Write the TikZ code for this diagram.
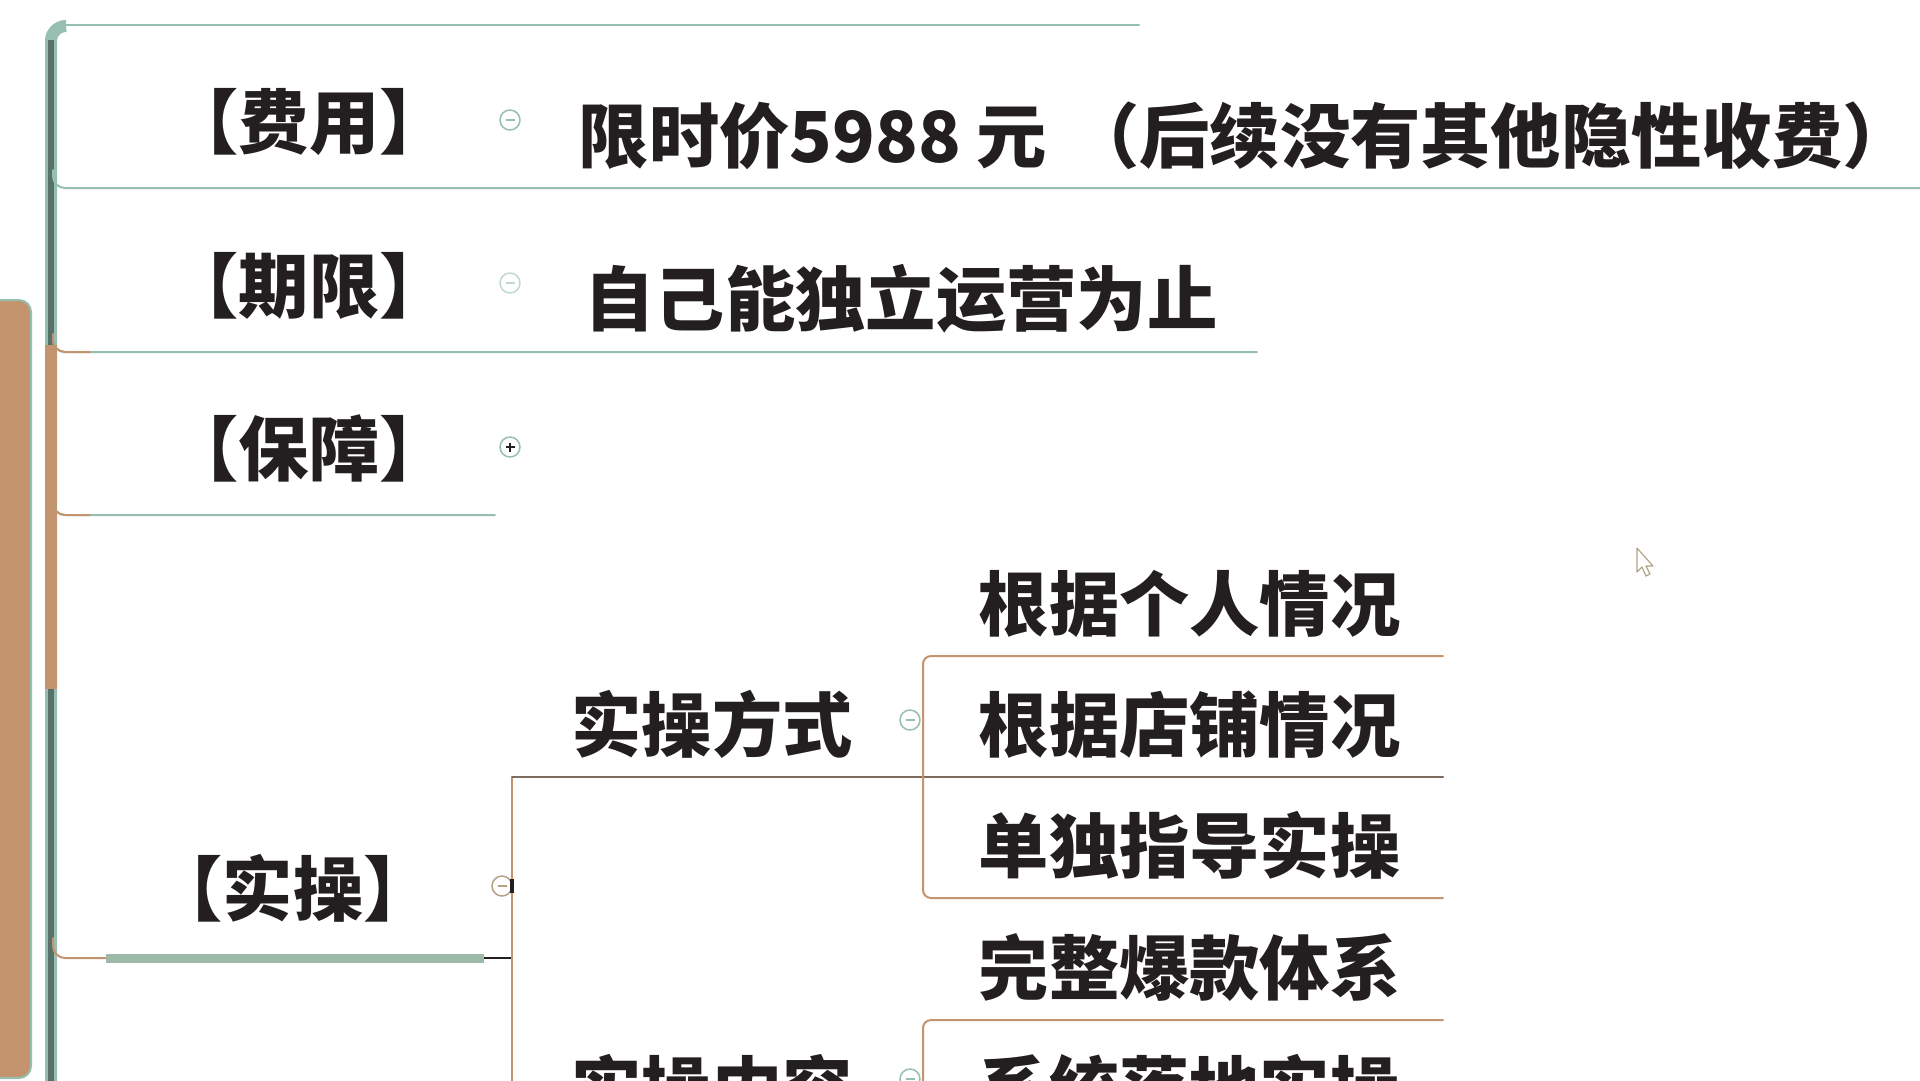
\documentclass[tikz,border=0pt]{standalone}
\usepackage{fontspec}
\newfontfamily\cjk{Noto Sans CJK SC}
\usetikzlibrary{positioning}

\definecolor{qing}{HTML}{96BFB1}
\definecolor{zong}{HTML}{C4946E}
\definecolor{mo}{HTML}{231F20}
\definecolor{gan}{HTML}{55716A}
\definecolor{hui}{HTML}{7D6B5E}

\tikzset{
  zi/.style = {font=\cjk\bfseries\fontsize{20pt}{24pt}\selectfont, text=mo, inner sep=0pt},
  biaoti/.style = {zi, anchor=base},
  neirong/.style = {zi, anchor=base west},
  xian/.style = {line width=0.2mm, line cap=round},
  shou/.style = {circle, draw=#1, line width=0.15mm, minimum size=2mm, inner sep=0pt,
    path picture={\draw[#1, line width=0.15mm] ([xshift=-0.45mm]path picture bounding box.center) -- ([xshift=0.45mm]path picture bounding box.center);}},
  shou/.default = qing,
  fang/.style = {circle, draw=qing, line width=0.15mm, minimum size=2mm, inner sep=0pt,
    path picture={\draw[mo, line width=0.12mm] ([xshift=-0.45mm]path picture bounding box.center) -- ([xshift=0.45mm]path picture bounding box.center);
                  \draw[mo, line width=0.12mm] ([yshift=-0.45mm]path picture bounding box.center) -- ([yshift=0.45mm]path picture bounding box.center);}}
}

\begin{document}
\begin{tikzpicture}[x=0.1mm, y=-0.1mm]
\useasboundingbox (0,0) rectangle (1920,1080);
\clip (0,0) rectangle (1920,1080);
\fill[white] (0,0) rectangle (1920,1080);

% 左侧色条
\draw[qing, line width=0.2mm, fill=zong, rounded corners=1.2mm] (-30,300) rectangle (31,1078);

% 主干
\draw[qing, line width=1.2mm, rounded corners=1.5mm] (51,1100) |- (66,26);
\draw[gan, line width=0.55mm] (51,1100) -- (51,40);
\draw[zong, line width=1.2mm] (51,345) -- (51,689);
\coordinate (top-e) at (1139,25);
\draw[qing, xian] (60,25) -- (top-e);

% 分支下划线
\coordinate (fy-e) at (1930,188);
\coordinate (qx-e) at (1257,352);
\coordinate (bz-e) at (495,515);
\draw[qing, xian, rounded corners=1.2mm] (53,170) |- (fy-e);
\draw[qing, xian, rounded corners=1.2mm] (53,334) |- (qx-e);
\draw[zong, xian, rounded corners=1.2mm] (53,334) |- (90,352);
\draw[qing, xian, rounded corners=1.2mm] (53,497) |- (bz-e);
\draw[zong, xian, rounded corners=1.2mm] (53,497) |- (90,515);

% 节点
\node[biaoti] (feiyong) at (309,148) {【费用】};
\node[biaoti] (qixian) at (309,312) {【期限】};
\node[biaoti] (baozhang) at (309,475) {【保障】};
\node[biaoti] (shicao) at (293,915) {【实操】};

\node[shou] (feiyong-c) at (510,120) {};
\node[shou=qing!60] (qixian-c) at (510,283) {};
\node[fang] (baozhang-c) at (510,447) {};
\node[shou=zong!70!qing] (shicao-c) at (502,886) {};

\node[neirong] (jiage) at (578,162) {限时价5988 元\hspace{2.2mm}（后续没有其他隐性收费）};
\node[neirong] (duli) at (584,325) {自己能独立运营为止};

% 实操
\coordinate (sc-a) at (106,958);
\coordinate (sc-b) at (484,958);
\coordinate (sc-j) at (512,958);
\draw[zong, xian, rounded corners=1.2mm] (53,938) |- (sc-a);
\draw[qing!85!zong, line width=0.9mm] (sc-a) -- (sc-b);
\draw[mo, line width=0.15mm] (sc-b) -- (sc-j);

\coordinate (fs-l) at (512,777);
\coordinate (fs-r) at (1443,777);
\draw[zong, xian] (fs-l) -- (512,1100);
\draw[hui, xian] (fs-l) -- (fs-r);
\fill[mo] (510,879) rectangle (514,893);

\node[neirong] (fangshi) at (571,751) {实操方式};
\node[neirong] (neirong) at (571,1115) {实操内容};
\node[shou] (fangshi-c) at (910,720) {};
\node[shou] (neirong-c) at (910,1079) {};

\draw[zong, xian, rounded corners=0.8mm] (1443,656) -- (923,656) -- (923,898) -- (1443,898);
\draw[zong, xian, rounded corners=0.8mm] (1443,1020) -- (923,1020) -- (923,1100);

\node[neirong] (geren) at (978,630) {根据个人情况};
\node[neirong] (dianpu) at (978,751) {根据店铺情况};
\node[neirong] (zhidao) at (978,872) {单独指导实操};
\node[neirong] (tixi) at (978,994) {完整爆款体系};
\node[neirong] (luodi) at (978,1115) {系统落地实操};

% 鼠标
\draw[zong!60!qing, line width=0.12mm, fill=white, line join=round]
  (1637,548) -- (1637,572) -- (1642,567) -- (1646,576) -- (1650,574) -- (1646,566) -- (1653,566) -- cycle;
\end{tikzpicture}
\end{document}
